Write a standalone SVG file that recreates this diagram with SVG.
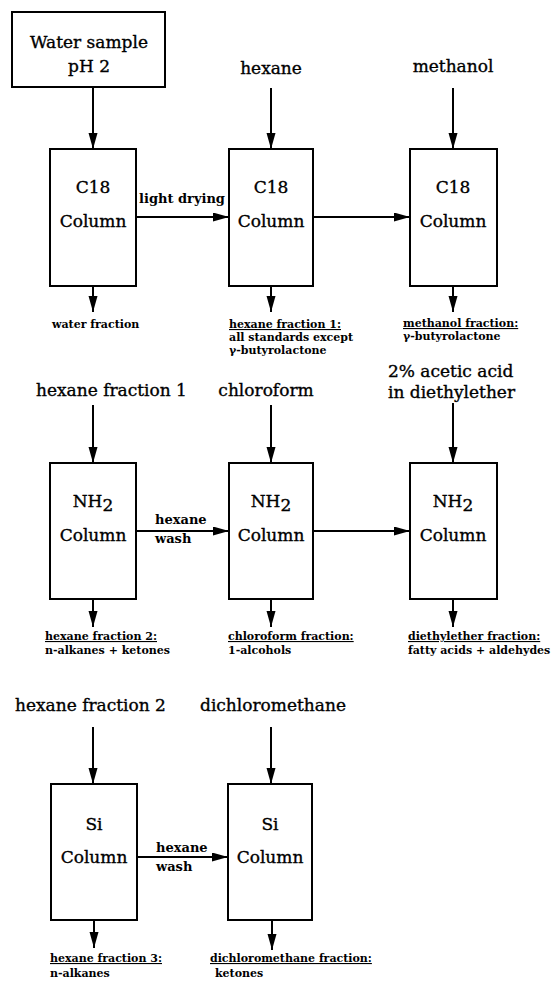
<svg xmlns="http://www.w3.org/2000/svg" width="554" height="983" viewBox="0 0 554 983">
<defs>
<marker id="ah" markerUnits="userSpaceOnUse" markerWidth="16" markerHeight="10" refX="16" refY="4.5" orient="auto">
<path d="M0,0 L16,4.5 L0,9 z" fill="#000"/>
</marker>
<style>
.box{fill:#fff;stroke:#000;stroke-width:2}
.lbl{font-family:"DejaVu Serif","Liberation Serif",serif;font-size:17px;fill:#000;stroke:#000;stroke-width:0.35}
.c{text-anchor:middle}
.bl{font-family:"DejaVu Serif","Liberation Serif",serif;font-size:13px;font-weight:bold;fill:#000}
.sm{font-family:"DejaVu Serif","Liberation Serif",serif;font-size:11px;font-weight:bold;fill:#000}
.u{text-decoration:underline}
.ar{stroke:#000;stroke-width:2;fill:none;marker-end:url(#ah)}
</style>
</defs>
<rect width="554" height="983" fill="#fff"/>

<g id="connectors">
<line class="ar" x1="93" y1="87" x2="93" y2="149"/>
<line class="ar" x1="271" y1="88" x2="271" y2="149"/>
<line class="ar" x1="453" y1="88" x2="453" y2="149"/>
<line class="ar" x1="136" y1="217" x2="229" y2="217"/>
<line class="ar" x1="313" y1="217" x2="410" y2="217"/>
<line class="ar" x1="93" y1="286" x2="93" y2="312"/>
<line class="ar" x1="271" y1="286" x2="271" y2="312"/>
<line class="ar" x1="453" y1="286" x2="453" y2="312"/>

<line class="ar" x1="93" y1="405" x2="93" y2="463"/>
<line class="ar" x1="271" y1="405" x2="271" y2="463"/>
<line class="ar" x1="453" y1="403" x2="453" y2="463"/>
<line class="ar" x1="136" y1="531" x2="229" y2="531"/>
<line class="ar" x1="313" y1="531" x2="410" y2="531"/>
<line class="ar" x1="93" y1="599" x2="93" y2="627"/>
<line class="ar" x1="271" y1="599" x2="271" y2="627"/>
<line class="ar" x1="453" y1="599" x2="453" y2="627"/>

<line class="ar" x1="93" y1="727" x2="93" y2="784"/>
<line class="ar" x1="271" y1="727" x2="271" y2="784"/>
<line class="ar" x1="137" y1="857" x2="228" y2="857"/>
<line class="ar" x1="94" y1="920" x2="94" y2="948"/>
<line class="ar" x1="272" y1="920" x2="272" y2="950"/>
<text class="bl" x="139" y="203">light drying</text>
<text class="bl" x="155" y="524">hexane</text>
<text class="bl" x="155" y="543">wash</text>
<text class="bl" x="156" y="852">hexane</text>
<text class="bl" x="156" y="871">wash</text>
</g>

<g id="water-sample">
<rect class="box" x="12" y="12" width="153" height="75"/>
<text class="lbl c" x="89" y="48">Water sample</text>
<text class="lbl c" x="89" y="72">pH 2</text>
</g>
<g id="in-hexane"><text class="lbl c" x="271" y="74">hexane</text></g>
<g id="in-methanol"><text class="lbl c" x="453" y="72">methanol</text></g>

<g id="c18-1">
<rect class="box" x="50" y="149" width="86" height="137"/>
<text class="lbl c" x="93" y="193">C18</text>
<text class="lbl c" x="93" y="227">Column</text>
</g>
<g id="c18-2">
<rect class="box" x="229" y="149" width="84" height="137"/>
<text class="lbl c" x="271" y="193">C18</text>
<text class="lbl c" x="271" y="227">Column</text>
</g>
<g id="c18-3">
<rect class="box" x="410" y="149" width="87" height="137"/>
<text class="lbl c" x="453" y="193">C18</text>
<text class="lbl c" x="453" y="227">Column</text>
</g>

<g id="out-water"><text class="sm" x="52" y="328">water fraction</text></g>
<g id="out-hexane1">
<text class="sm u" x="229" y="328">hexane fraction 1:</text>
<text class="sm" x="229" y="341">all standards except</text>
<text class="sm" x="229" y="354">γ-butyrolactone</text>
</g>
<g id="out-methanol">
<text class="sm u" x="403" y="327">methanol fraction:</text>
<text class="sm" x="403" y="340">γ-butyrolactone</text>
</g>

<g id="in-hexane-fraction-1"><text class="lbl" x="36" y="396">hexane fraction 1</text></g>
<g id="in-chloroform"><text class="lbl c" x="266" y="396">chloroform</text></g>
<g id="in-acetic">
<text class="lbl" x="388" y="377">2% acetic acid</text>
<text class="lbl" x="388" y="398">in diethylether</text>
</g>

<g id="nh2-1">
<rect class="box" x="50" y="463" width="86" height="136"/>
<text class="lbl c" x="93" y="507">NH<tspan dy="4">2</tspan></text>
<text class="lbl c" x="93" y="541">Column</text>
</g>
<g id="nh2-2">
<rect class="box" x="229" y="463" width="84" height="136"/>
<text class="lbl c" x="271" y="507">NH<tspan dy="4">2</tspan></text>
<text class="lbl c" x="271" y="541">Column</text>
</g>
<g id="nh2-3">
<rect class="box" x="410" y="463" width="87" height="136"/>
<text class="lbl c" x="453" y="507">NH<tspan dy="4">2</tspan></text>
<text class="lbl c" x="453" y="541">Column</text>
</g>

<g id="out-hexane2">
<text class="sm u" x="45" y="640">hexane fraction 2:</text>
<text class="sm" x="45" y="654">n-alkanes + ketones</text>
</g>
<g id="out-chloroform">
<text class="sm u" x="228" y="640">chloroform fraction:</text>
<text class="sm" x="228" y="654">1-alcohols</text>
</g>
<g id="out-diethylether">
<text class="sm u" x="408" y="640">diethylether fraction:</text>
<text class="sm" x="408" y="654">fatty acids + aldehydes</text>
</g>

<g id="in-hexane-fraction-2"><text class="lbl" x="15" y="711">hexane fraction 2</text></g>
<g id="in-dcm"><text class="lbl c" x="273" y="711">dichloromethane</text></g>

<g id="si-1">
<rect class="box" x="51" y="784" width="86" height="136"/>
<text class="lbl c" x="94" y="830">Si</text>
<text class="lbl c" x="94" y="863">Column</text>
</g>
<g id="si-2">
<rect class="box" x="228" y="784" width="84" height="136"/>
<text class="lbl c" x="270" y="830">Si</text>
<text class="lbl c" x="270" y="863">Column</text>
</g>

<g id="out-hexane3">
<text class="sm u" x="50" y="962">hexane fraction 3:</text>
<text class="sm" x="50" y="977">n-alkanes</text>
</g>
<g id="out-dcm">
<text class="sm u" x="210" y="962">dichloromethane fraction:</text>
<text class="sm" x="215" y="977">ketones</text>
</g>
</svg>
